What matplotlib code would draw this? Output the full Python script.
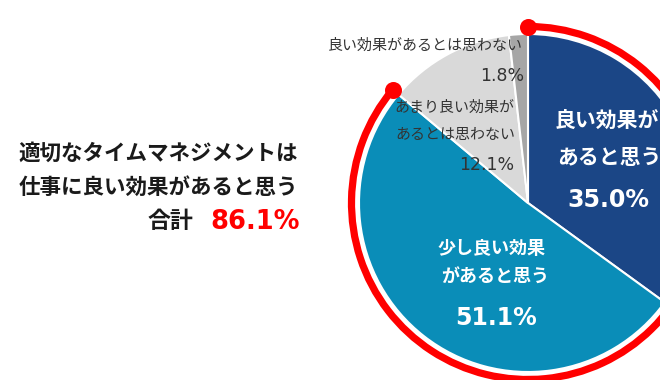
import numpy as np
import matplotlib.pyplot as plt
from matplotlib.patches import Arc

plt.rcParams['font.family'] = ['Noto Sans CJK JP', 'DejaVu Sans']

# data
values = [35.0, 51.1, 12.1, 1.8]
colors = ['#1B4686', '#0A8DB8', '#D9D9D9', '#A6A6A6']
total_label = '合計'
title_lines = ['適切なタイムマネジメントは', '仕事に良い効果があると思う']

W, H = 660, 380
fig = plt.figure(figsize=(6.6, 3.8), dpi=100)
ax = fig.add_axes([0, 0, 1, 1])

cx, cy = 528, 177
r = 169
ax.pie(values, colors=colors, startangle=90, counterclock=False,
       center=(cx, cy), radius=r,
       wedgeprops=dict(edgecolor='white', linewidth=1.5))

# red arc around the "good effect" total
pos_total = values[0] + values[1]
a_start = 90
a_end = 90 - 360 * pos_total / 100
R = 176.5
ax.add_patch(Arc((cx, cy), 2 * R, 2 * R, theta1=a_end, theta2=a_start,
                 color='#FF0000', lw=5.2))
ends = np.radians([a_start, a_end])
ax.scatter(cx + R * np.cos(ends), cy + R * np.sin(ends), s=150,
           color='#FF0000', zorder=5, linewidths=0)

ax.set_xlim(0, W)
ax.set_ylim(0, H)
ax.set_aspect('equal')
ax.axis('off')

num = ['DejaVu Sans']

# left summary text
ax.text(298, 227, title_lines[0], ha='right', va='center', fontsize=15.5,
        fontweight='bold', color='#1a1a1a')
ax.text(298, 193, title_lines[1], ha='right', va='center', fontsize=15.5,
        fontweight='bold', color='#1a1a1a')
ax.text(193, 158, total_label, ha='right', va='center', fontsize=16.5,
        fontweight='bold', color='#1a1a1a')
ax.text(300, 158, f'{pos_total:.1f}%', ha='right', va='center', fontsize=18.5,
        fontweight='bold', color='#FF0000', family=num)

# slice labels
ax.text(523, 334, '良い効果があるとは思わない', ha='right', va='center',
        fontsize=10.8, color='#333333')
ax.text(524, 304, f'{values[3]:.1f}%', ha='right', va='center',
        fontsize=12.5, color='#333333', family=num)

ax.text(514, 272, 'あまり良い効果が', ha='right', va='center',
        fontsize=10.8, color='#333333')
ax.text(515, 245, 'あるとは思わない', ha='right', va='center',
        fontsize=10.8, color='#333333')
ax.text(514, 215, f'{values[2]:.1f}%', ha='right', va='center',
        fontsize=12.5, color='#333333', family=num)

ax.text(607, 260, '良い効果が', ha='center', va='center', fontsize=15,
        fontweight='bold', color='white')
ax.text(609, 222, 'あると思う', ha='center', va='center', fontsize=15,
        fontweight='bold', color='white')
ax.text(608, 180, f'{values[0]:.1f}%', ha='center', va='center', fontsize=17,
        fontweight='bold', color='white', family=num)

ax.text(492, 131, '少し良い効果', ha='center', va='center', fontsize=13,
        fontweight='bold', color='white')
ax.text(495, 103, 'があると思う', ha='center', va='center', fontsize=13,
        fontweight='bold', color='white')
ax.text(496, 62, f'{values[1]:.1f}%', ha='center', va='center', fontsize=17,
        fontweight='bold', color='white', family=num)

fig.savefig('out.png', dpi=100, facecolor='white')
